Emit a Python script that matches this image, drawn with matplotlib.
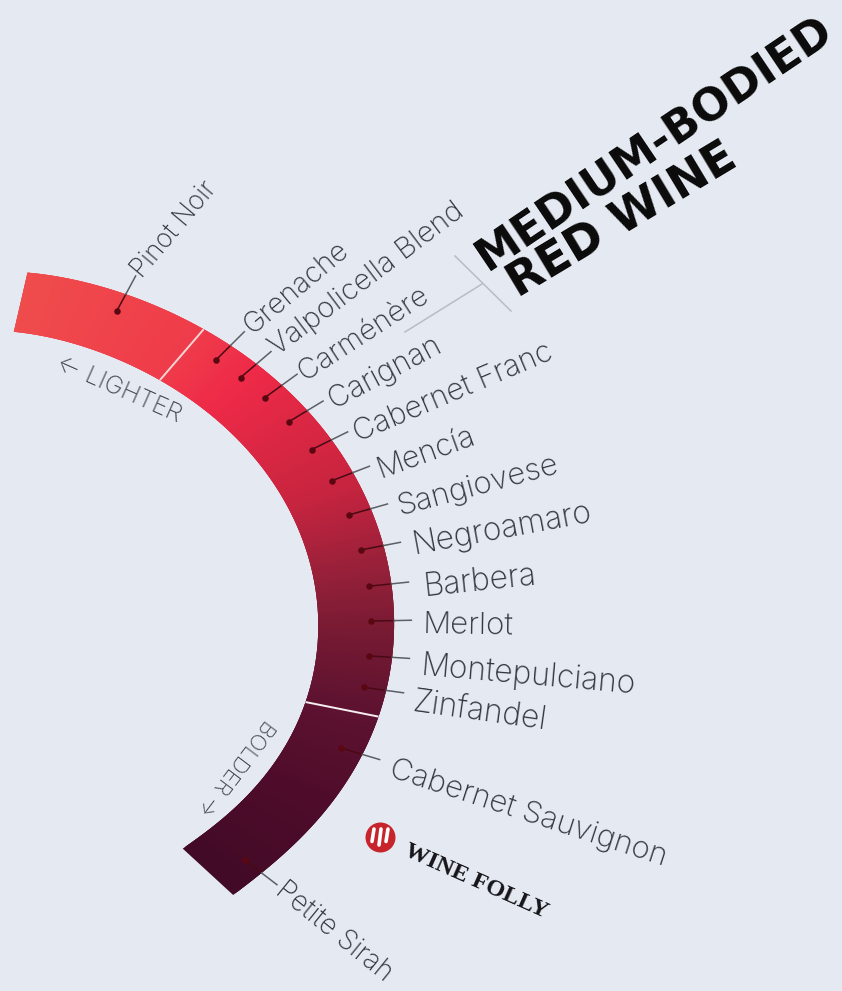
import numpy as np
import matplotlib
matplotlib.use('Agg')
import matplotlib.pyplot as plt
from matplotlib.collections import PolyCollection
from matplotlib.colors import LinearSegmentedColormap

# wines, in order along the arc, with their position on it (degrees round the pole)
wine_names = ['Pinot Noir', 'Grenache', 'Valpolicella Blend', 'Carménère', 'Carignan',
              'Cabernet Franc', 'Mencía', 'Sangiovese', 'Negroamaro', 'Barbera', 'Merlot',
              'Montepulciano', 'Zinfandel', 'Cabernet Sauvignon', 'Petite Sirah']
wine_angle = [61.7, 44.9, 40.5, 36.0, 31.2, 26.2, 21.1, 15.9, 10.9, 5.9, 1.2, -3.5, -7.8, -16.6, -37.5]
label_rot = [50, 40, 37, 33, 28, 23, 20, 15, 10.5, 6, -1, -5, -8, -18, -39]
label_gap = [42, 44, 43, 45, 49, 48, 49, 51, 53, 55, 52, 52, 50, 51, 43]
label_drop = [0, 0, 1, 3, 5, 6, 7, 7, 6, 7, 5, 7, 8, 6, 0]
label_size = [18.8, 20.5, 21, 21, 21.5, 21.7, 22, 22.3, 22.8, 22.8, 22.5, 22.8, 22.8, 22.3, 20]

# band edges
outer_angle = [76.8, 49.3, 36.2, 24.8, 11.6, 1.1, -11.4, -17.0, -37.3, -42.7]
outer_radius = [367, 396, 418.6, 429.5, 447, 450, 442, 434, 400, 391]
inner_angle = [77.0, 49.3, 32.4, 24.1, 12.9, -0.5, -11.2, -20.8, -42.5]
inner_radius = [306, 330, 349, 359.4, 371.4, 373, 366, 358, 323]

# section dividers and the ends of the band
band_start = 77.0
band_end = -42.6
dividers = [49.3, -11.3]

# colour along the band
grad_angle = [-42.6, -25, -11, 0, 8, 20, 40, 50, 77]
grad_color = ['#410a26', '#4e0c2a', '#5d1230', '#781a33', '#962039', '#c8243f', '#ee2a48', '#ef3c4a', '#ef4c4c']

BG = '#e5e9f1'
PX, PY = -55, 630  # pole of the fan, in pixels


def to_xy(angle, radius):
    a = np.radians(angle)
    return PX + radius * np.cos(a), PY - radius * np.sin(a)


def main():
    fig = plt.figure(figsize=(8.42, 9.91), dpi=100, facecolor=BG)
    ax = fig.add_axes([0, 0, 1, 1])
    ax.set_xlim(0, 842)
    ax.set_ylim(991, 0)
    ax.axis('off')

    p_out = np.polyfit(outer_angle, outer_radius, 5)
    p_in = np.polyfit(inner_angle, inner_radius, 5)

    # band, as slices that overlap a little so no seams show
    edges = np.linspace(band_end, band_start, 300)
    x_o, y_o = to_xy(edges, np.polyval(p_out, edges))
    x_i, y_i = to_xy(edges, np.polyval(p_in, edges))
    polys = []
    for i in range(len(edges) - 1):
        j = min(i + 3, len(edges) - 1)
        polys.append(list(zip(x_o[i:j + 1], y_o[i:j + 1])) + list(zip(x_i[i:j + 1][::-1], y_i[i:j + 1][::-1])))
    lo, hi = grad_angle[0], grad_angle[-1]
    stops = [(g - lo) / (hi - lo) for g in grad_angle]
    cmap = LinearSegmentedColormap.from_list('wine', list(zip(stops, grad_color)))
    band = PolyCollection(polys, cmap=cmap, linewidths=0, zorder=2)
    band.set_array((edges[:-1] + edges[1:]) / 2)
    band.set_clim(lo, hi)
    ax.add_collection(band)

    for d, col in zip(dividers, ['#f6d5d5', '#f7eef0']):
        xs, ys = to_xy(np.array([d, d]), np.array([np.polyval(p_in, d), np.polyval(p_out, d)]))
        ax.plot(xs, ys, color=col, lw=1.4, zorder=3, solid_capstyle='butt')

    # dots, leaders, labels
    for name, ang, rot, gap, drop, size in zip(wine_names, wine_angle, label_rot, label_gap, label_drop, label_size):
        r_o = np.polyval(p_out, ang)
        r_i = np.polyval(p_in, ang)
        r_dot = r_i + 0.7 * (r_o - r_i)
        dx, dy = to_xy(ang, r_dot)
        ex, ey = to_xy(ang, r_o)
        lx, ly = to_xy(ang, r_dot + 40)
        ax.plot([dx, ex], [dy, ey], color='#4a0a14', lw=1.1, zorder=4)
        ax.plot([ex, lx], [ey, ly], color='#5c6066', lw=1.1, zorder=4)
        ax.scatter([dx], [dy], s=22, color='#5a0712', zorder=5, linewidths=0)
        tx, ty = to_xy(ang, r_dot + gap)
        ax.text(tx, ty + drop, name, rotation=rot, rotation_mode='anchor', ha='left', va='center',
                family='Inter', weight='light', fontsize=size, color='#33373d', zorder=6)

    # direction captions
    ax.text(58, 362, '← LIGHTER', rotation=-24, rotation_mode='anchor', ha='left', va='center',
            family='Inter', weight='light', fontsize=18, color='#45494f')
    ax.text(270, 722, 'BOLDER →', rotation=-127, rotation_mode='anchor', ha='left', va='center',
            family='Inter', weight='light', fontsize=16, color='#45494f')

    # title and its bracket
    ax.text(488, 272, 'MEDIUM-BODIED', rotation=34, rotation_mode='anchor', ha='left', va='baseline',
            family='DejaVu Sans', weight='bold', fontsize=32, color='#0a0a0a')
    ax.text(518, 298, 'RED WINE', rotation=31, rotation_mode='anchor', ha='left', va='baseline',
            family='DejaVu Sans', weight='bold', fontsize=33, color='#0a0a0a')
    ax.plot([405, 482], [332, 284], color='#b9bcc2', lw=1.1)
    ax.plot([455, 511], [256, 311], color='#b9bcc2', lw=1.1)

    # logo
    ax.scatter([380], [837], s=466, color='#c8242b', linewidths=0, zorder=3)
    for off in [-7, 0, 7]:
        ax.plot([380 + off + 1, 380 + off - 1], [829, 845 - abs(off) * 0.5], color='white', lw=2.6, zorder=4,
                solid_capstyle='round')
    ax.text(405, 850, 'WINE FOLLY', rotation=-24, rotation_mode='anchor', ha='left', va='center',
            family='Liberation Serif', weight='bold', fontsize=17.5, color='#15151a')

    plt.savefig('out.png', dpi=100, facecolor=BG)


if __name__ == '__main__':
    main()
